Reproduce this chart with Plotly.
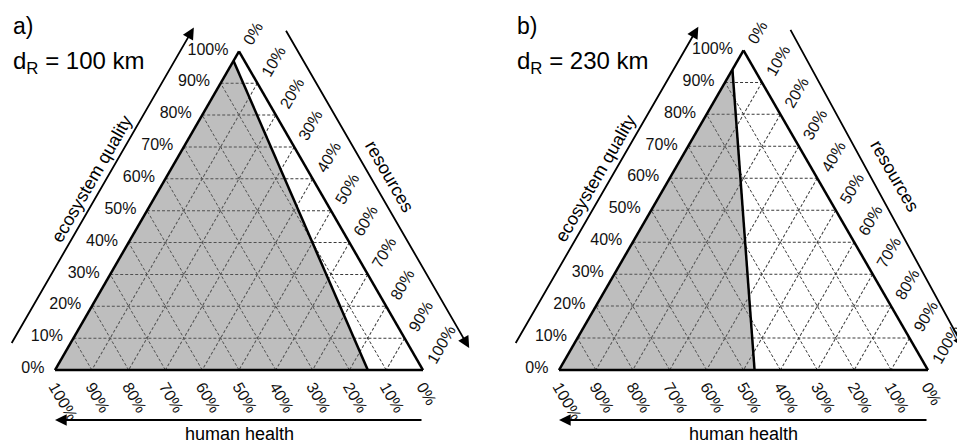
import math
import plotly.graph_objects as go

# ---------------- data ----------------
tick_values = [0, 10, 20, 30, 40, 50, 60, 70, 80, 90, 100]
tick_labels = [f"{v}%" for v in tick_values]

panel_letters = ["a)", "b)"]
distances_km = [100, 230]

# grey region vertices (ecosystem quality, human health, resources in %)
region_a_eco = [0, 97, 0]
region_a_hh = [100, 3, 15]
region_a_res = [0, 0, 85]

region_b_eco = [0, 94, 0]
region_b_hh = [100, 6, 47]
region_b_res = [0, 0, 53]

axis_titles = ["ecosystem quality", "human health", "resources"]

# ---------------- layout helpers ----------------
PAGE_W, PAGE_H = 965, 443
BODY = 8  # default page margin of the html body
W, H = PAGE_W - BODY, PAGE_H - BODY
FONT = "Arial, Liberation Sans, sans-serif"
# triangle placement in page pixels: left x, right x, base y
triangles = [(55, 423, 370), (559, 928, 370)]
SQ3 = math.sqrt(3) / 2

fig = go.Figure()
regions = [(region_a_eco, region_a_hh, region_a_res),
           (region_b_eco, region_b_hh, region_b_res)]

annotations = []
layout_tern = {}


def px(x, y):
    return (x - BODY) / W, 1 - (y - BODY) / H


def text_ann(x, y, text, size, angle=0, xanchor="center"):
    X, Y = px(x, y)
    return dict(xref="paper", yref="paper", x=X, y=Y, text=text, textangle=angle,
                xanchor=xanchor, yanchor="middle", showarrow=False,
                font=dict(size=size, family=FONT, color="black"))


def axis_style(ticklen, **extra):
    style = dict(
        tickmode="array", tickvals=tick_values, ticktext=tick_labels,
        showgrid=True, gridcolor="#3a3a3a", gridwidth=1,
        griddash="3px,2px", showline=True, linecolor="black", linewidth=2.5,
        tickfont=dict(size=16, color="#111", family=FONT),
        title=dict(text=""), min=0,
    )
    if ticklen > 0:
        style.update(ticks="outside", ticklen=ticklen, tickcolor="rgba(0,0,0,0)")
    else:
        style.update(ticks="")
    style.update(extra)
    return style


for i, (L, R, B) in enumerate(triangles):
    side = R - L
    T = B - side * SQ3
    sub = "ternary" if i == 0 else "ternary2"
    x0d, y0d = px(L, B)
    x1d, y1d = px(R, T)
    layout_tern[sub] = dict(
        domain=dict(x=[x0d, x1d], y=[y0d, y1d]),
        sum=100, bgcolor="white",
        aaxis=axis_style(7),
        baxis=axis_style(0, tickangle=60),
        caxis=axis_style(5, tickangle=-60),
    )
    eco, hh, res = regions[i]
    fig.add_trace(go.Scatterternary(
        a=eco, b=hh, c=res, mode="lines", fill="toself",
        fillcolor="rgba(110,110,110,0.45)", line=dict(width=0),
        subplot=sub, hoverinfo="skip", showlegend=False))
    fig.add_trace(go.Scatterternary(
        a=eco[1:], b=hh[1:], c=res[1:], mode="lines",
        line=dict(color="black", width=2.5),
        subplot=sub, hoverinfo="skip", showlegend=False))

    # arrows offset from edges
    off = 51
    ux, uy = 0.5, -SQ3      # left edge, upward
    nx, ny = -SQ3, -0.5     # its outward normal
    x0, y0 = L + nx * off, B + ny * off
    x1, y1 = x0 + ux * (side - 2), y0 + uy * (side - 2)
    rx, ry = 0.5, SQ3       # right edge, downward
    mx, my = SQ3, -0.5      # its outward normal
    ax0, ay0 = (L + R) / 2 + mx * off + rx * 4, T + my * off + ry * 4
    ax1, ay1 = ax0 + rx * side, ay0 + ry * side
    arrows = [((x0, y0), (x1, y1)),
              ((ax0, ay0), (ax1, ay1)),
              ((R, B + 50), (L, B + 50))]
    for (tx, ty), (hx, hy) in arrows:
        X, Y = px(hx, hy)
        annotations.append(dict(
            xref="paper", yref="paper", x=X, y=Y, axref="pixel", ayref="pixel",
            ax=tx - hx, ay=ty - hy, showarrow=True, arrowhead=2, arrowsize=1.3,
            arrowwidth=1.8, arrowcolor="black", text="", standoff=0))

    # axis titles
    mid = side / 2
    annotations.append(text_ann(L + ux * mid + nx * 64, B + uy * mid + ny * 64,
                                axis_titles[0], 18, angle=-60))
    annotations.append(text_ann((L + R) / 2 + rx * mid + mx * 68,
                                T + ry * mid + my * 68, axis_titles[2], 18, angle=60))
    annotations.append(text_ann((L + R) / 2, B + 64, axis_titles[1], 18))

    # panel letter and distance
    annotations.append(text_ann(L - 44, 26, panel_letters[i], 23, xanchor="left"))
    annotations.append(text_ann(L - 44, 63, f"d<sub>R</sub> = {distances_km[i]} km",
                                24, xanchor="left"))

fig.update_layout(
    width=W, height=H, margin=dict(l=0, r=0, t=0, b=0),
    paper_bgcolor="white", plot_bgcolor="white", showlegend=False,
    annotations=annotations, **layout_tern,
)
fig.write_html("out.html")
